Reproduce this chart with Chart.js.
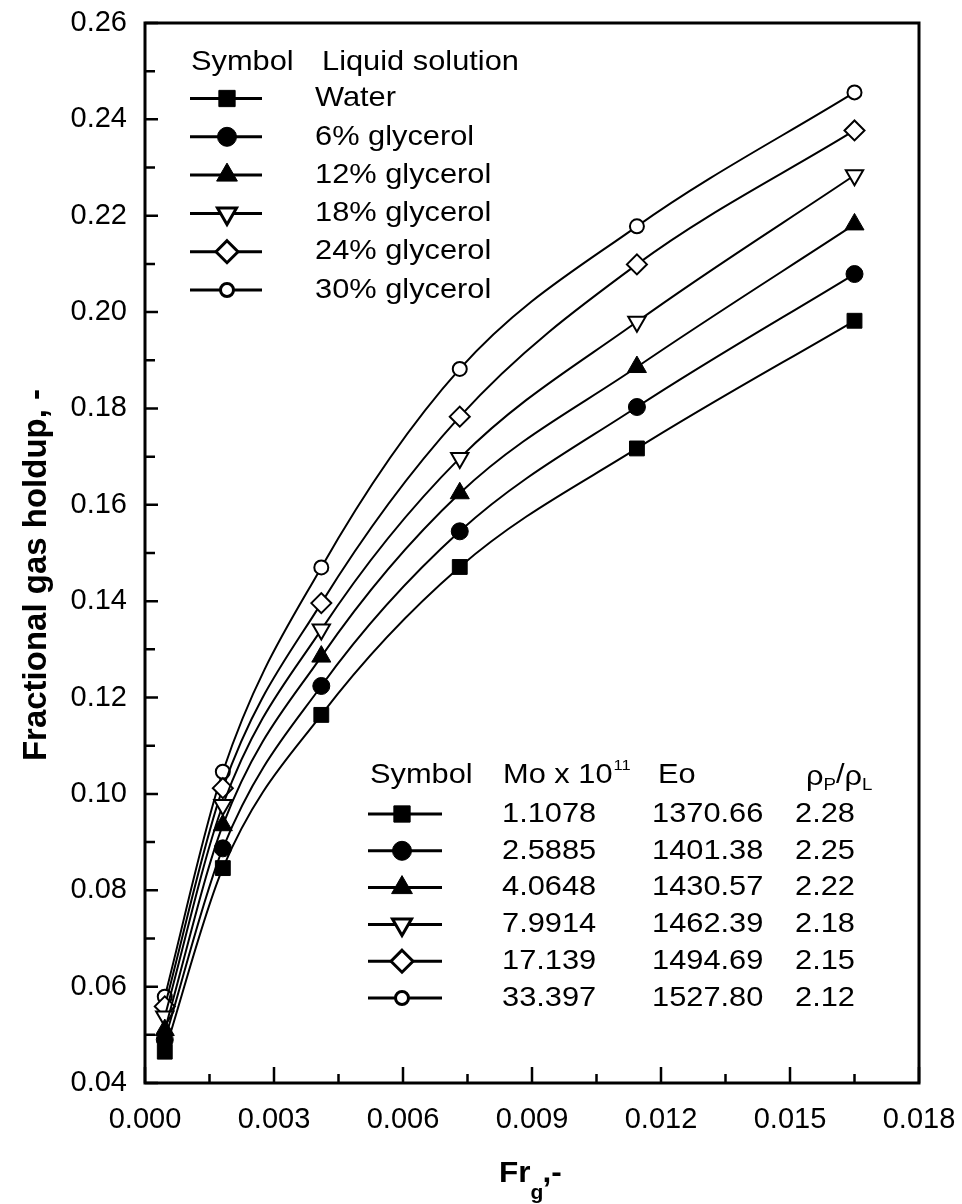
<!DOCTYPE html>
<html>
<head>
<meta charset="utf-8">
<script src="https://cdn.jsdelivr.net/npm/chart.js@4.4.0/dist/chart.umd.min.js"></script>
<style>
  html, body { margin: 0; padding: 0; background: #fff; }
</style>
</head>
<body>
<canvas id="chart" width="962" height="1204"></canvas>
<script>
// values
const frg = [0.00046, 0.00181, 0.0041, 0.00732, 0.01144, 0.0165];
const water = [0.0465, 0.0846, 0.1164, 0.1471, 0.1717, 0.1982];
const glycerol6 = [0.0490, 0.0887, 0.1224, 0.1545, 0.1803, 0.2079];
const glycerol12 = [0.0510, 0.0935, 0.1285, 0.1624, 0.1886, 0.2182];
const glycerol18 = [0.0538, 0.0977, 0.1341, 0.1697, 0.1980, 0.2284];
const glycerol24 = [0.0559, 0.1012, 0.1396, 0.1783, 0.2099, 0.2377];
const glycerol30 = [0.0579, 0.1046, 0.1470, 0.1882, 0.2178, 0.2456];

const solutionNames = ["Water", "6% glycerol", "12% glycerol", "18% glycerol", "24% glycerol", "30% glycerol"];
const moValues = ["1.1078", "2.5885", "4.0648", "7.9914", "17.139", "33.397"];
const eoValues = ["1370.66", "1401.38", "1430.57", "1462.39", "1494.69", "1527.80"];
const densityRatios = ["2.28", "2.25", "2.22", "2.18", "2.15", "2.12"];

const X_MIN = 0, X_MAX = 0.018, X_STEP = 0.003;
const Y_MIN = 0.04, Y_MAX = 0.26, Y_STEP = 0.02;

const allSeries = [water, glycerol6, glycerol12, glycerol18, glycerol24, glycerol30];

// marker look per series
const markers = [
    { style: "rect", radius: 10.5, fill: "#000", rotation: 0, bw: 1 },
    { style: "circle", radius: 8.5, fill: "#000", rotation: 0, bw: 1 },
    { style: "triangle", radius: 11, fill: "#000", rotation: 0, bw: 1 },
    { style: "triangle", radius: 10, fill: "#fff", rotation: 180, bw: 2 },
    { style: "rectRot", radius: 10, fill: "#fff", rotation: 0, bw: 2 },
    { style: "circle", radius: 7, fill: "#fff", rotation: 0, bw: 2 },
];

const FONT = "'Liberation Sans', Arial, Helvetica, sans-serif";

const datasets = allSeries.map((vals, i) => ({
    label: solutionNames[i],
    data: vals.map((v, j) => ({ x: frg[j], y: v })),
    showLine: true,
    cubicInterpolationMode: "monotone",
    borderColor: "#000",
    borderWidth: 2,
    pointStyle: markers[i].style,
    pointRadius: markers[i].radius,
    pointRotation: markers[i].rotation,
    pointBackgroundColor: markers[i].fill,
    pointBorderColor: "#000",
    pointBorderWidth: markers[i].bw,
}));

function drawMarker(ctx, m, x, y, r, lw) {
    ctx.save();
    ctx.beginPath();
    if (m.style === "rect") {
        const s = r * Math.SQRT1_2;
        ctx.rect(x - s, y - s, 2 * s, 2 * s);
    } else if (m.style === "circle") {
        ctx.arc(x, y, r, 0, Math.PI * 2);
    } else if (m.style === "triangle") {
        let a = m.rotation * Math.PI / 180;
        for (let k = 0; k < 3; k++) {
            const px = x + Math.sin(a) * r, py = y - Math.cos(a) * r;
            if (k === 0) ctx.moveTo(px, py); else ctx.lineTo(px, py);
            a += 2 * Math.PI / 3;
        }
        ctx.closePath();
    } else if (m.style === "rectRot") {
        ctx.moveTo(x, y - r);
        ctx.lineTo(x + r, y);
        ctx.lineTo(x, y + r);
        ctx.lineTo(x - r, y);
        ctx.closePath();
    }
    ctx.fillStyle = m.fill;
    ctx.fill();
    ctx.lineWidth = lw;
    ctx.strokeStyle = "#000";
    ctx.stroke();
    ctx.restore();
}

function drawText(ctx, str, x, y, size, bold, hs) {
    ctx.save();
    ctx.translate(x, y);
    ctx.scale(hs || 1.1, 1);
    ctx.font = (bold ? "bold " : "") + size + "px " + FONT;
    ctx.fillStyle = "#000";
    ctx.textBaseline = "middle";
    ctx.textAlign = "left";
    ctx.fillText(str, 0, 0);
    const w = ctx.measureText(str).width * (hs || 1.1);
    ctx.restore();
    return w;
}

function legendSymbol(ctx, i, cx, cy, x0, x1) {
    ctx.save();
    ctx.strokeStyle = "#000";
    ctx.lineWidth = 3;
    ctx.beginPath();
    ctx.moveTo(x0, cy);
    ctx.lineTo(x1, cy);
    ctx.stroke();
    ctx.restore();
    const m = markers[i];
    const lw = m.fill === "#fff" ? 3 : 1;
    const r = m.style === "circle" && m.fill === "#fff" ? 6.5 : m.radius + 1;
    drawMarker(ctx, m, cx, cy, r, lw);
}

// no label overflow padding: chart area is set by layout padding alone
function noOverflow(s) {
    s.paddingTop = 0;
    s.paddingBottom = 0;
    s.paddingLeft = 0;
    s.paddingRight = 0;
}

const decorPlugin = {
    id: "decor",
    afterDraw(chart) {
        const ctx = chart.ctx;
        const { left, right, top, bottom } = chart.chartArea;
        const xs = chart.scales.x, ys = chart.scales.y;

        // frame
        ctx.save();
        ctx.strokeStyle = "#000";
        ctx.lineWidth = 3;
        ctx.strokeRect(left, top, right - left, bottom - top);

        // inward ticks, major and minor
        ctx.lineWidth = 2.5;
        ctx.beginPath();
        xs.ticks.forEach((t, k) => {
            const px = xs.getPixelForValue(t.value);
            ctx.moveTo(px, bottom);
            ctx.lineTo(px, bottom - 16);
            if (k < xs.ticks.length - 1) {
                const mx = xs.getPixelForValue((t.value + xs.ticks[k + 1].value) / 2);
                ctx.moveTo(mx, bottom);
                ctx.lineTo(mx, bottom - 9);
            }
        });
        ys.ticks.forEach((t, k) => {
            const py = ys.getPixelForValue(t.value);
            ctx.moveTo(left, py);
            ctx.lineTo(left + 13, py);
            if (k < ys.ticks.length - 1) {
                const my = ys.getPixelForValue((t.value + ys.ticks[k + 1].value) / 2);
                ctx.moveTo(left, my);
                ctx.lineTo(left + 10, my);
            }
        });
        ctx.stroke();
        ctx.restore();

        // axis titles
        ctx.save();
        ctx.translate(46, 575);
        ctx.rotate(-Math.PI / 2);
        ctx.font = "bold 33px " + FONT;
        ctx.fillStyle = "#000";
        ctx.textAlign = "center";
        ctx.textBaseline = "alphabetic";
        ctx.fillText("Fractional gas holdup, -", 0, 0);
        ctx.restore();

        let xw = drawText(ctx, "Fr", 499, 1174, 30, true, 1.05);
        drawText(ctx, "g", 499 + xw, 1193, 20, true, 1.05);
        drawText(ctx, ",-", 499 + xw + 12, 1174, 30, true, 1.05);

        // upper legend
        const fs = 28;
        drawText(ctx, "Symbol", 191, 62, fs);
        drawText(ctx, "Liquid solution", 322, 62, fs);
        solutionNames.forEach((name, i) => {
            const cy = 98.5 + i * 38.3;
            legendSymbol(ctx, i, 227, cy, 190, 262);
            drawText(ctx, name, 315, cy, fs);
        });

        // lower legend
        const hy = 775;
        drawText(ctx, "Symbol", 370, hy, fs);
        const mw = drawText(ctx, "Mo x 10", 503, hy, fs);
        drawText(ctx, "11", 503 + mw + 1, hy - 9, 15);
        drawText(ctx, "Eo", 658, hy, fs);
        let px = 806;
        px += drawText(ctx, "\u03C1", px, hy + 2, fs);
        px += drawText(ctx, "P", px, hy + 10, 17);
        px += drawText(ctx, "/", px, hy, fs);
        px += drawText(ctx, "\u03C1", px, hy + 2, fs);
        drawText(ctx, "L", px, hy + 10, 17);
        moValues.forEach((mo, i) => {
            const cy = 814 + i * 36.8;
            legendSymbol(ctx, i, 402, cy, 368, 442);
            drawText(ctx, mo, 502, cy, fs);
            drawText(ctx, eoValues[i], 652, cy, fs);
            drawText(ctx, densityRatios[i], 795, cy, fs);
        });
    },
};

new Chart(document.getElementById("chart"), {
    type: "scatter",
    data: { datasets: datasets },
    options: {
        responsive: false,
        devicePixelRatio: 1,
        animation: false,
        layout: { padding: { top: 23, right: 43, left: 0, bottom: 0 } },
        plugins: { legend: { display: false }, tooltip: { enabled: false } },
        scales: {
            x: {
                type: "linear",
                min: X_MIN,
                max: X_MAX,
                grid: { display: false, drawTicks: false },
                border: { display: false },
                ticks: {
                    stepSize: X_STEP,
                    autoSkip: false,
                    maxRotation: 0,
                    padding: 20,
                    color: "#000",
                    font: { family: FONT, size: 29 },
                    callback: (v) => v.toFixed(3),
                },
                afterFit: (s) => { s.height = 121; noOverflow(s); },
            },
            y: {
                type: "linear",
                min: Y_MIN,
                max: Y_MAX,
                grid: { display: false, drawTicks: false },
                border: { display: false },
                ticks: {
                    stepSize: Y_STEP,
                    autoSkip: false,
                    padding: 18,
                    color: "#000",
                    font: { family: FONT, size: 29 },
                    callback: (v) => v.toFixed(2),
                },
                afterFit: (s) => { s.width = 145; noOverflow(s); },
            },
        },
    },
    plugins: [decorPlugin],
});
</script>
</body>
</html>
